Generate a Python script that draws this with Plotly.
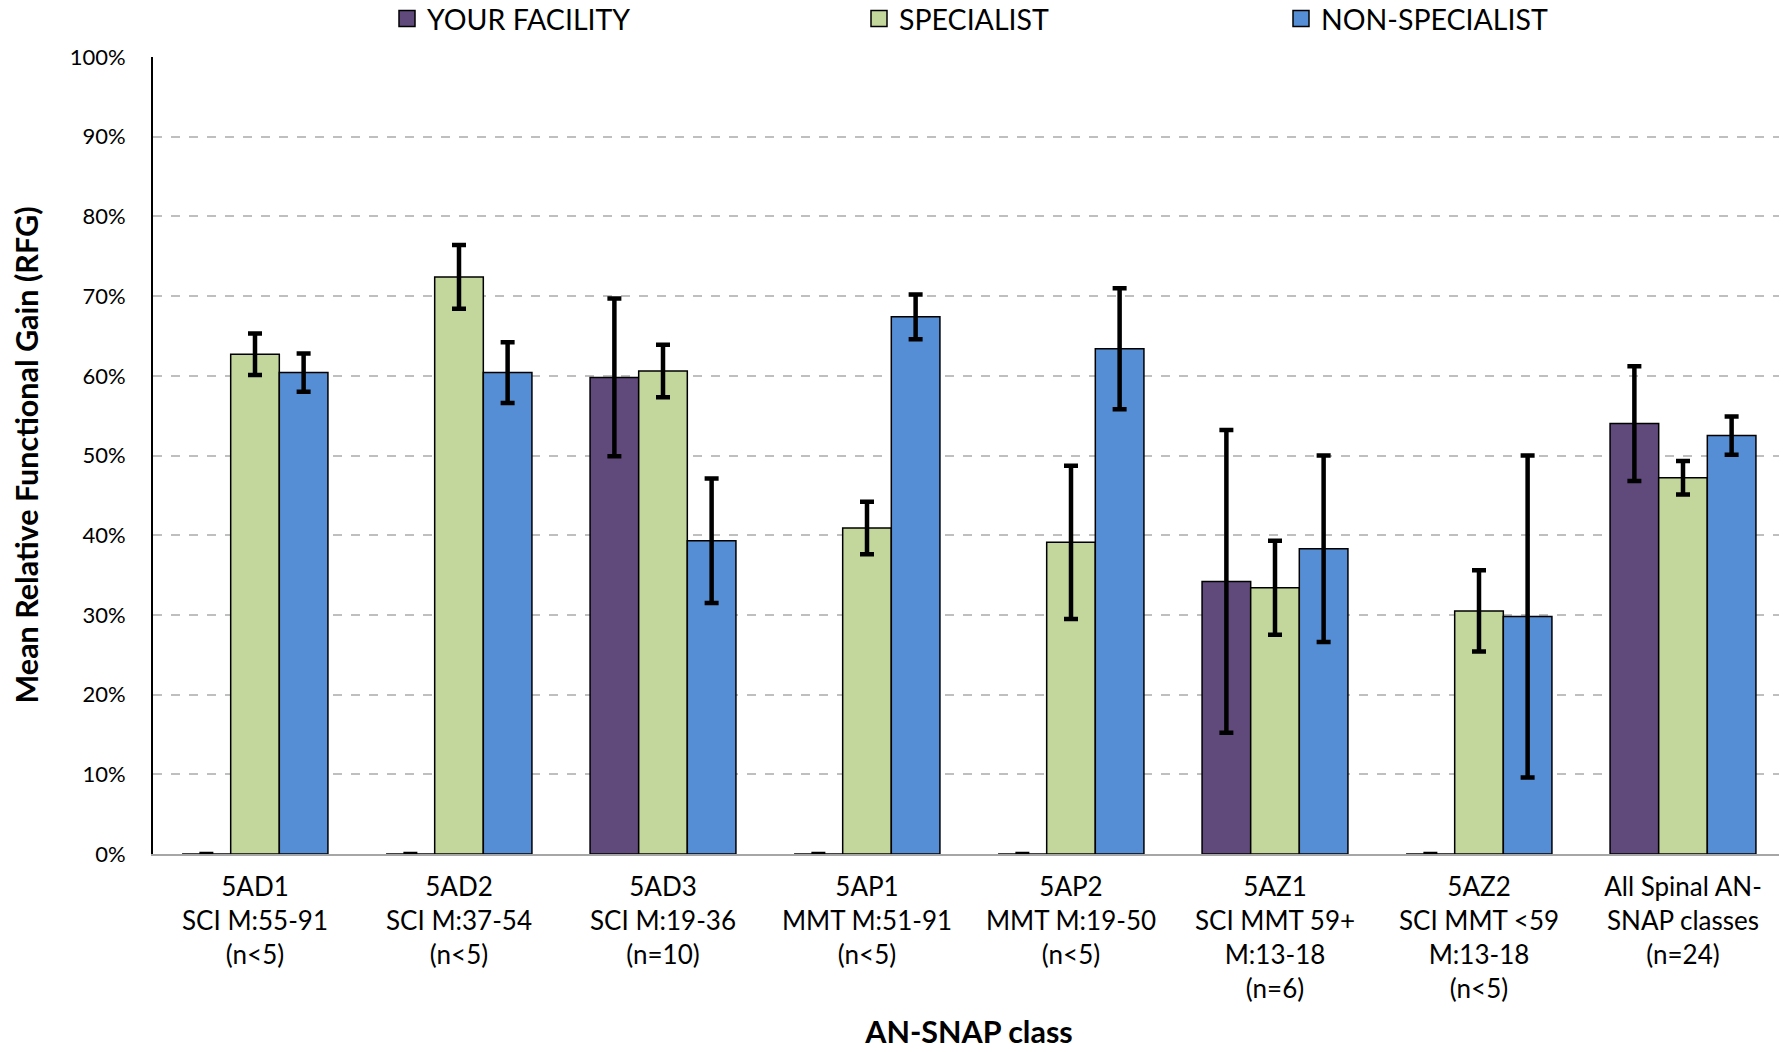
import plotly.graph_objects as go

categories = [
    "5AD1<br>SCI M:55-91<br>(n<5)",
    "5AD2<br>SCI M:37-54<br>(n<5)",
    "5AD3<br>SCI M:19-36<br>(n=10)",
    "5AP1<br>MMT M:51-91<br>(n<5)",
    "5AP2<br>MMT M:19-50<br>(n<5)",
    "5AZ1<br>SCI MMT 59+<br>M:13-18<br>(n=6)",
    "5AZ2<br>SCI MMT <59<br>M:13-18<br>(n<5)",
    "All Spinal AN-<br>SNAP classes<br>(n=24)",
]

facility = [0, 0, 59.8, 0, 0, 34.2, 0, 54.0]
facility_err = [0, 0, 9.9, 0, 0, 19.0, 0, 7.2]
specialist = [62.7, 72.4, 60.6, 40.9, 39.1, 33.4, 30.5, 47.2]
specialist_err = [2.6, 4.0, 3.3, 3.3, 9.6, 5.9, 5.1, 2.1]
nonspecialist = [60.4, 60.4, 39.3, 67.4, 63.4, 38.3, 29.8, 52.5]
nonspecialist_err = [2.4, 3.8, 7.8, 2.8, 7.6, 11.7, 20.2, 2.4]

series = [
    ("YOUR FACILITY", facility, facility_err, "#604A7B", "legend"),
    ("SPECIALIST", specialist, specialist_err, "#C3D69B", "legend2"),
    ("NON-SPECIALIST", nonspecialist, nonspecialist_err, "#558ED5", "legend3"),
]

FONT = "Lato"
W, H = 1779, 1044
ML, MR, MT, MB = 145, 2, 49, 198

fig = go.Figure()
for name, vals, errs, color, leg in series:
    fig.add_trace(go.Bar(
        name=name, x=categories, y=vals,
        marker=dict(color=color, line=dict(color="#000000", width=1.5)),
        error_y=dict(type="data", array=errs, visible=True, color="#000000",
                     thickness=4.5, width=7),
        legend=leg, showlegend=False, legendgroup=name,
    ))
    # legend-only entry with a larger square swatch
    fig.add_trace(go.Scatter(
        name=name, x=[None], y=[None], mode="markers",
        marker=dict(symbol="square", size=16, color=color,
                    line=dict(color="#000000", width=1.5)),
        legend=leg, showlegend=True, legendgroup=name, hoverinfo="skip",
    ))

leg_common = dict(orientation="h", yref="container", yanchor="middle", y=1 - 11 / H,
                  xref="container", xanchor="left", itemsizing="trace",
                  maxheight=120,
                  font=dict(family=FONT, size=28.5, color="#000000"),
                  bgcolor="rgba(0,0,0,0)", itemwidth=30)

plot_w = W - ML - MR

fig.update_layout(
    width=W, height=H,
    showlegend=True,
    barmode="group", bargap=0.285, bargroupgap=0,
    plot_bgcolor="white", paper_bgcolor="white",
    margin=dict(l=ML, r=MR, t=MT, b=MB),
    font=dict(family=FONT, size=22, color="#000000"),
    legend=dict(x=379 / W, **leg_common),
    legend2=dict(x=851 / W, **leg_common),
    legend3=dict(x=1273 / W, **leg_common),
    xaxis=dict(
        title=dict(text="<b>AN-SNAP class</b>", font=dict(family=FONT, size=30.5), standoff=19),
        tickfont=dict(family=FONT, size=26, color="#000000"),
        showline=True, linecolor="#A6A6A6", linewidth=2,
        ticks="", showgrid=False, automargin=False, ticklabelstandoff=9,
    ),
    yaxis=dict(
        range=[0, 100], dtick=10, ticksuffix="%",
        tickfont=dict(family=FONT, size=22, color="#000000"),
        showline=True, linecolor="#000000", linewidth=2,
        showgrid=True, gridcolor="#BFBFBF", gridwidth=1.5, griddash="dash",
        zeroline=False, ticks="", ticklabelstandoff=21, automargin=False,
    ),
    annotations=[dict(
        text="<b>Mean Relative Functional Gain (RFG)</b>",
        xref="paper", yref="paper", x=-(ML - 17) / plot_w, y=0.5,
        xanchor="center", yanchor="middle", textangle=-90, showarrow=False,
        font=dict(family=FONT, size=30.5, color="#000000"),
    )],
)

fig.write_html("out.html")
